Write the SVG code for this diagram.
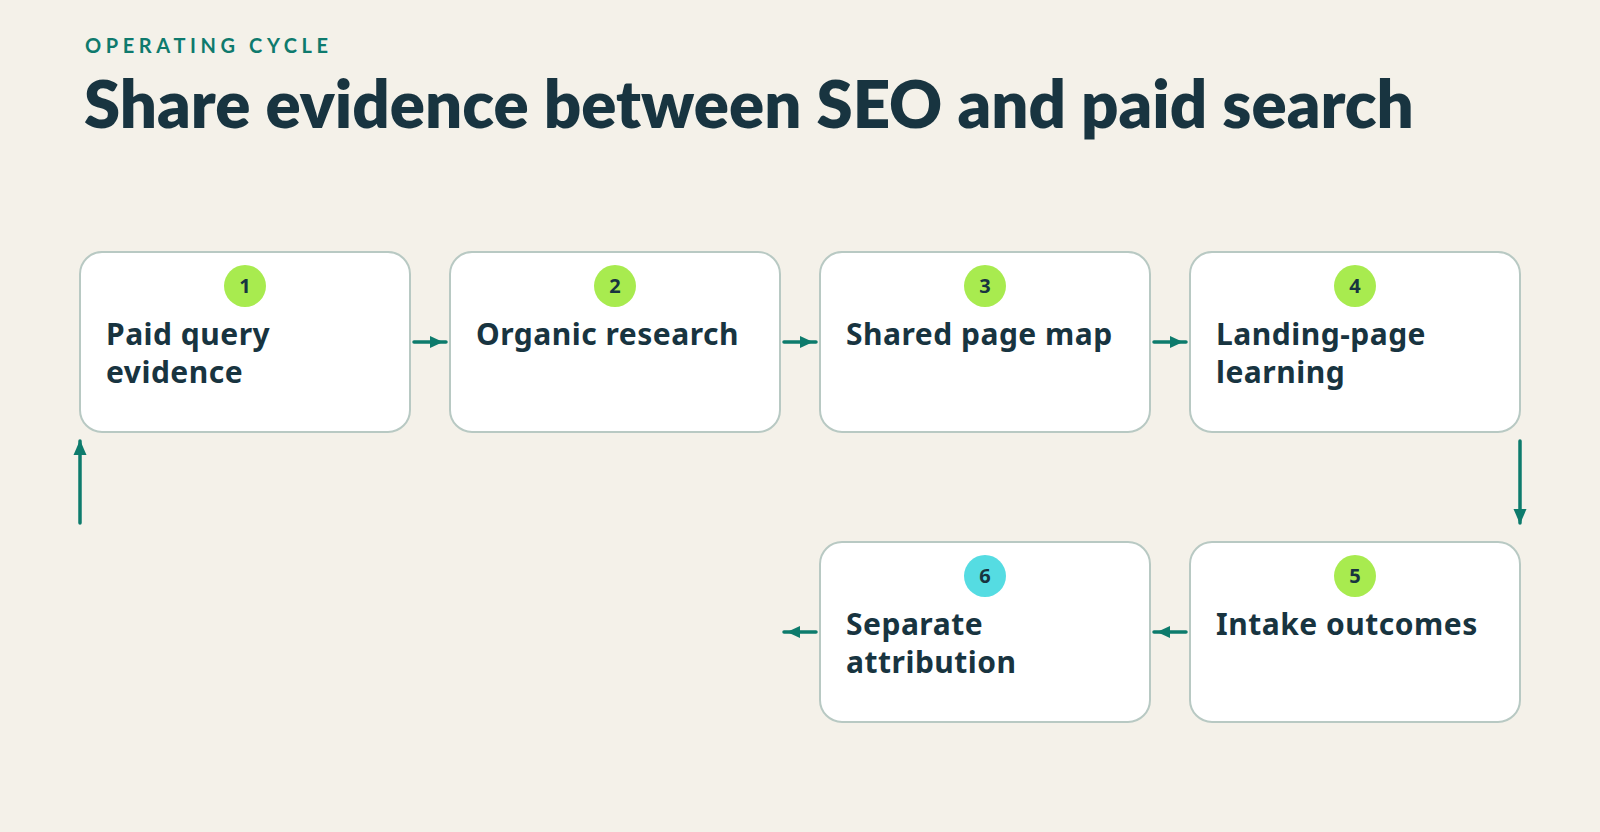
<svg xmlns="http://www.w3.org/2000/svg" width="1600" height="832" viewBox="0 0 1600 832">
<defs>
<style>
.bg{fill:#f4f1e9}
.box{fill:#ffffff;stroke:#b8c9c3;stroke-width:2}
.lbl{font-family:"Noto Sans",Lato,"Liberation Sans",sans-serif;font-weight:700;font-size:30px;letter-spacing:0.5px;fill:#183440}
.num{font-family:"Noto Sans",Lato,"Liberation Sans",sans-serif;font-weight:700;font-size:20px;fill:#183440;text-anchor:middle}
.badge{fill:#a8eb4f}
.badge6{fill:#55dce2}
.conn{stroke:#0d7b6c;stroke-width:3.5;fill:none;stroke-linecap:round}
.kicker{font-family:Lato,"Noto Sans","Liberation Sans",sans-serif;font-weight:700;font-size:20px;letter-spacing:4.6px;fill:#0e7a6d}
.title{font-family:Lato,"Noto Sans","Liberation Sans",sans-serif;font-weight:800;font-size:65.3px;fill:#183440}
</style>
<marker id="ah" markerUnits="userSpaceOnUse" markerWidth="20" markerHeight="14" viewBox="0 0 20 14" refX="16" refY="7" orient="auto">
<path d="M0,1 L13,7 L0,13 z" fill="#0d7b6c"/>
</marker>
<marker id="ahv" markerUnits="userSpaceOnUse" markerWidth="20" markerHeight="14" viewBox="0 0 20 14" refX="14" refY="7" orient="auto">
<path d="M0,0.5 L15,7 L0,13.5 z" fill="#0d7b6c"/>
</marker>
</defs>
<rect class="bg" x="0" y="0" width="1600" height="832"/>
<text class="kicker" x="85" y="53">OPERATING CYCLE</text>
<text class="title" x="84" y="128">Share evidence between SEO and paid search</text>

<g id="connectors">
<line class="conn" x1="414" y1="342" x2="446" y2="342" marker-end="url(#ah)"/>
<line class="conn" x1="784" y1="342" x2="816" y2="342" marker-end="url(#ah)"/>
<line class="conn" x1="1154" y1="342" x2="1186" y2="342" marker-end="url(#ah)"/>
<line class="conn" x1="1520" y1="441" x2="1520" y2="523" marker-end="url(#ahv)"/>
<line class="conn" x1="1186" y1="632" x2="1154" y2="632" marker-end="url(#ah)"/>
<line class="conn" x1="816" y1="632" x2="784" y2="632" marker-end="url(#ah)"/>
<line class="conn" x1="80" y1="523" x2="80" y2="441" marker-end="url(#ahv)"/>
</g>

<g id="node1">
<rect class="box" x="80" y="252" width="330" height="180" rx="22"/>
<circle class="badge" cx="245" cy="286" r="21"/>
<text class="num" x="245" y="293">1</text>
<text class="lbl" x="106" y="345">Paid query</text>
<text class="lbl" x="106" y="383">evidence</text>
</g>
<g id="node2">
<rect class="box" x="450" y="252" width="330" height="180" rx="22"/>
<circle class="badge" cx="615" cy="286" r="21"/>
<text class="num" x="615" y="293">2</text>
<text class="lbl" x="476" y="345">Organic research</text>
</g>
<g id="node3">
<rect class="box" x="820" y="252" width="330" height="180" rx="22"/>
<circle class="badge" cx="985" cy="286" r="21"/>
<text class="num" x="985" y="293">3</text>
<text class="lbl" x="846" y="345">Shared page map</text>
</g>
<g id="node4">
<rect class="box" x="1190" y="252" width="330" height="180" rx="22"/>
<circle class="badge" cx="1355" cy="286" r="21"/>
<text class="num" x="1355" y="293">4</text>
<text class="lbl" x="1216" y="345">Landing-page</text>
<text class="lbl" x="1216" y="383">learning</text>
</g>
<g id="node5">
<rect class="box" x="1190" y="542" width="330" height="180" rx="22"/>
<circle class="badge" cx="1355" cy="576" r="21"/>
<text class="num" x="1355" y="583">5</text>
<text class="lbl" x="1216" y="635">Intake outcomes</text>
</g>
<g id="node6">
<rect class="box" x="820" y="542" width="330" height="180" rx="22"/>
<circle class="badge6" cx="985" cy="576" r="21"/>
<text class="num" x="985" y="583">6</text>
<text class="lbl" x="846" y="635">Separate</text>
<text class="lbl" x="846" y="673">attribution</text>
</g>
</svg>
